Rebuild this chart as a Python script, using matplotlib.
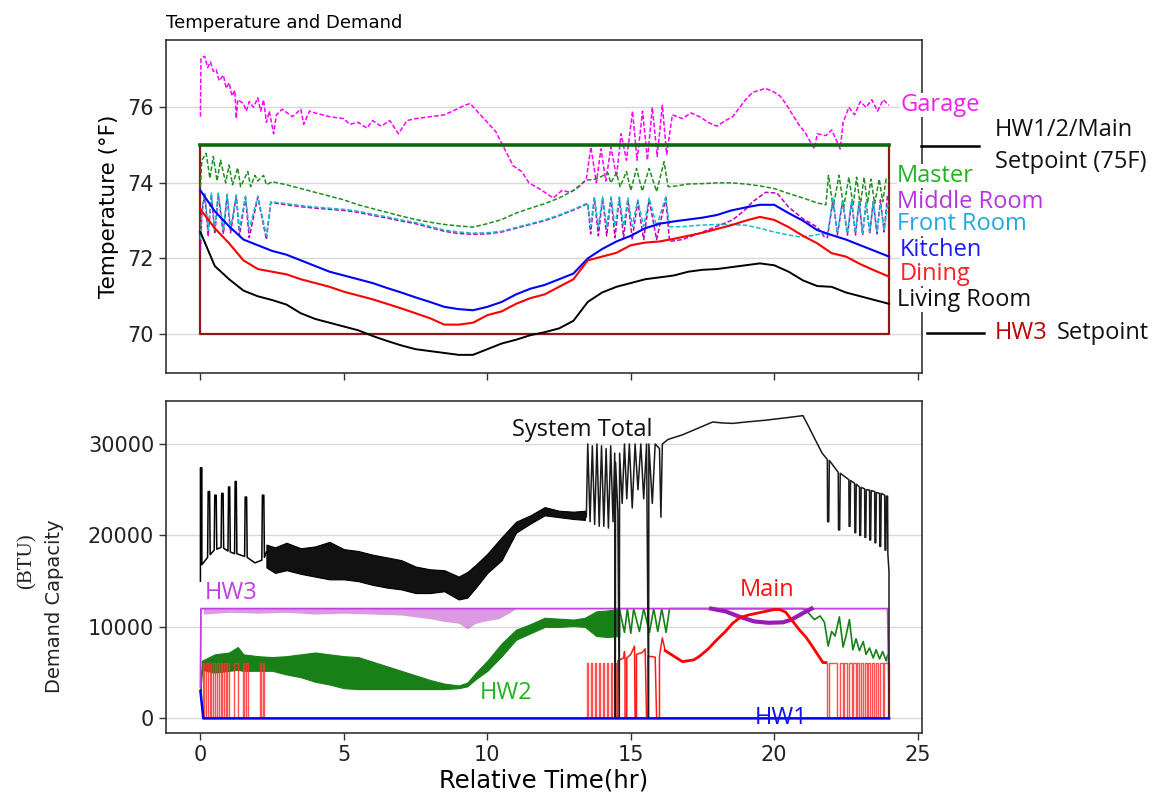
import numpy as np
import matplotlib
matplotlib.use("Agg")
import matplotlib.pyplot as plt

# ---------------- temperature data (deg F) ----------------
grid_t = np.arange(0, 24.01, 0.5)

living_v = [72.7, 71.8, 71.45, 71.15, 71.0, 70.9, 70.78, 70.55, 70.4, 70.3,
            70.2, 70.1, 69.95, 69.82, 69.7, 69.6, 69.55, 69.5, 69.45, 69.45,
            69.6, 69.75, 69.85, 69.97, 70.05, 70.15, 70.35, 70.85, 71.1, 71.25,
            71.35, 71.45, 71.5, 71.55, 71.65, 71.7, 71.72, 71.77, 71.82, 71.87,
            71.82, 71.65, 71.42, 71.27, 71.25, 71.1, 71.0, 70.9, 70.8]
kitchen_v = [73.8, 73.25, 72.85, 72.5, 72.35, 72.2, 72.1, 71.95, 71.8, 71.65,
             71.55, 71.45, 71.35, 71.22, 71.1, 70.97, 70.85, 70.72, 70.66, 70.63,
             70.72, 70.85, 71.05, 71.2, 71.3, 71.45, 71.6, 72.0, 72.25, 72.45,
             72.6, 72.8, 72.92, 72.98, 73.03, 73.08, 73.15, 73.27, 73.35, 73.42,
             73.42, 73.2, 73.0, 72.75, 72.62, 72.5, 72.35, 72.2, 72.05]
dining_v = [73.3, 72.8, 72.4, 71.95, 71.72, 71.65, 71.58, 71.45, 71.35, 71.25,
            71.12, 71.02, 70.92, 70.8, 70.68, 70.55, 70.42, 70.25, 70.25, 70.3,
            70.5, 70.6, 70.8, 70.95, 71.05, 71.25, 71.45, 71.95, 72.05, 72.15,
            72.35, 72.42, 72.45, 72.52, 72.6, 72.68, 72.78, 72.88, 73.0, 73.1,
            73.02, 72.83, 72.6, 72.4, 72.14, 72.05, 71.85, 71.68, 71.52]

garage_t = [0.0, 0.02, 0.15, 0.25, 0.35, 0.45, 0.55, 0.65, 0.8, 0.9, 1.0, 1.1,
            1.2, 1.25, 1.3, 1.5, 1.6, 1.7, 1.85, 2.0, 2.1, 2.2, 2.3, 2.4, 2.55,
            2.65, 2.85, 3.2, 3.5, 3.6, 3.8, 4.0, 4.5, 5.0, 5.2, 5.5, 5.8, 6.0,
            6.3, 6.6, 6.9, 7.2, 7.5, 8.0, 8.5, 8.8, 9.2, 9.4, 9.7, 10.0, 10.3,
            10.6, 10.9, 11.2, 11.45, 11.8, 12.0, 12.3, 12.6, 12.9, 13.2, 13.45,
            13.61, 13.8, 13.96, 14.13, 14.31, 14.5, 14.66, 14.85, 15.06, 15.22,
            15.41, 15.58, 15.75, 15.92, 16.1, 16.25, 16.45, 16.8, 17.1, 17.4,
            17.7, 18.0, 18.3, 18.55, 18.8, 19.0, 19.25, 19.5, 19.7, 20.0, 20.2,
            20.4, 20.6, 20.85, 21.1, 21.4, 21.5, 21.8, 22.0, 22.3, 22.4, 22.6,
            22.8, 23.0, 23.2, 23.4, 23.6, 23.8, 24.0]
garage_v = [75.75, 77.3, 77.35, 77.05, 77.2, 76.95, 77.0, 76.7, 76.85, 76.5,
            76.65, 76.3, 76.45, 75.7, 76.2, 76.1, 75.9, 76.15, 76.0, 76.25,
            75.9, 76.2, 75.6, 75.9, 75.3, 75.8, 75.95, 75.75, 75.95, 75.55,
            75.9, 75.85, 75.75, 75.7, 75.55, 75.6, 75.45, 75.65, 75.5, 75.65,
            75.3, 75.65, 75.7, 75.75, 75.8, 75.9, 76.05, 76.1, 75.85, 75.6,
            75.35, 74.9, 74.45, 74.3, 74.0, 73.85, 73.75, 73.6, 73.8, 73.75,
            73.9, 74.1, 74.95, 74.0, 74.9, 74.05, 74.95, 74.15, 75.3, 74.6,
            75.9, 74.6, 75.9, 74.6, 76.0, 74.7, 76.05, 74.75, 75.8, 75.7,
            75.85, 75.75, 75.6, 75.5, 75.65, 75.75, 76.0, 76.2, 76.4, 76.45,
            76.5, 76.4, 76.3, 76.1, 75.85, 75.55, 75.3, 74.9, 75.3, 75.25,
            75.4, 74.9, 75.6, 76.0, 75.8, 76.15, 76.0, 76.2, 75.9, 76.2, 76.05]

master_t = [0.0, 0.05, 0.2, 0.33, 0.45, 0.58, 0.7, 0.88, 1.0, 1.12, 1.3, 1.4,
            1.65, 1.75, 1.9, 2.0, 2.2, 2.3, 2.5, 3.0, 3.5, 4.0, 4.5, 5.0, 5.5,
            6.0, 6.5, 7.0, 7.5, 8.0, 8.5, 9.0, 9.5, 10.0, 10.5, 11.0, 11.5,
            12.0, 12.5, 13.0, 13.44, 13.8, 14.2, 14.3, 14.5, 14.63, 14.85, 15.0,
            15.2, 15.4, 15.64, 15.9, 16.16, 16.3, 16.6, 17.0, 17.5, 18.0, 18.5,
            19.0, 19.5, 20.0, 20.5, 21.0, 21.5, 21.8, 21.89, 22.05, 22.26, 22.42,
            22.6, 22.75, 22.87, 23.0, 23.13, 23.25, 23.37, 23.5, 23.66, 23.78,
            23.9, 24.0]
master_v = [73.9, 74.6, 74.78, 74.12, 74.7, 74.05, 74.6, 74.0, 74.47, 73.95,
            74.4, 73.9, 74.3, 73.9, 74.2, 74.05, 74.2, 73.95, 74.03, 73.95,
            73.85, 73.75, 73.65, 73.55, 73.42, 73.32, 73.22, 73.12, 73.03, 72.96,
            72.9, 72.86, 72.83, 72.92, 73.03, 73.2, 73.33, 73.45, 73.6, 73.8,
            74.07, 74.1, 74.26, 74.0, 74.26, 73.9, 74.3, 73.8, 74.38, 73.78,
            74.38, 73.77, 74.56, 73.9, 73.92, 73.97, 73.98, 74.0, 74.0, 73.97,
            73.92, 73.85, 73.72, 73.6, 73.47, 73.42, 74.2, 73.35, 74.2, 73.35,
            74.15, 73.4, 74.15, 73.4, 74.15, 73.45, 74.1, 73.45, 74.1, 73.5,
            74.1, 74.05]

front_t = [0.0, 0.05, 0.15, 0.27, 0.38, 0.5, 0.62, 0.8, 0.93, 1.05, 1.25, 1.36,
           1.57, 1.7, 2.0, 2.3, 2.45, 3.0, 3.5, 4.0, 4.5, 5.0, 5.5, 6.0, 6.5,
           7.0, 7.5, 8.0, 8.5, 9.0, 9.5, 10.0, 10.5, 11.0, 11.5, 12.0, 12.5,
           13.0, 13.5, 13.6, 13.73, 13.87, 14.02, 14.16, 14.31, 14.45, 14.6,
           14.75, 14.9, 15.05, 15.24, 15.45, 15.64, 15.9, 16.22, 16.35, 16.8,
           17.4, 18.0, 18.5, 19.0, 19.5, 20.0, 20.5, 20.9, 21.3, 21.75, 21.85,
           22.05, 22.2, 22.38, 22.55, 22.7, 22.83, 22.96, 23.08, 23.2, 23.33,
           23.45, 23.58, 23.7, 23.83, 23.95, 24.0]
front_v = [72.5, 73.3, 73.73, 72.75, 73.73, 72.75, 73.73, 72.75, 73.7, 72.78,
           73.68, 72.78, 73.65, 72.78, 73.65, 72.6, 73.5, 73.45, 73.4, 73.36,
           73.33, 73.3, 73.25, 73.17, 73.1, 73.02, 72.95, 72.85, 72.75, 72.7,
           72.67, 72.68, 72.72, 72.82, 72.92, 73.02, 73.15, 73.3, 73.47, 72.85,
           73.63, 72.85, 73.63, 72.85, 73.63, 72.85, 73.63, 72.85, 73.6, 72.85,
           73.55, 72.85, 73.6, 72.85, 73.63, 72.84, 72.84, 72.88, 72.9, 72.9,
           72.88, 72.8, 72.7, 72.62, 72.57, 72.6, 72.67, 72.6, 73.6, 72.67,
           73.55, 72.67, 73.55, 72.67, 73.5, 72.67, 73.5, 72.7, 73.5, 72.7,
           73.45, 72.75, 73.4, 73.4]

middle_t = [0.0, 0.05, 0.15, 0.27, 0.38, 0.5, 0.62, 0.8, 0.93, 1.05, 1.25, 1.36,
            1.57, 1.7, 2.0, 2.3, 2.45, 3.0, 3.5, 4.0, 4.5, 5.0, 5.5, 6.0, 6.5,
            7.0, 7.5, 8.0, 8.5, 9.0, 9.5, 10.0, 10.5, 11.0, 11.5, 12.0, 12.5,
            13.0, 13.5, 13.6, 13.73, 13.87, 14.02, 14.16, 14.31, 14.45, 14.6,
            14.75, 14.9, 15.05, 15.24, 15.45, 15.64, 15.9, 16.22, 16.35, 16.8,
            17.4, 18.0, 18.55, 19.0, 19.25, 19.7, 20.1, 20.5, 21.0, 21.5, 21.75,
            21.85, 22.05, 22.2, 22.38, 22.55, 22.7, 22.83, 22.96, 23.08, 23.2,
            23.33, 23.45, 23.58, 23.7, 23.83, 23.95, 24.0]
middle_v = [72.2, 73.2, 73.7, 72.6, 73.7, 72.65, 73.7, 72.65, 73.67, 72.68,
            73.65, 72.6, 73.62, 72.55, 73.62, 72.5, 73.48, 73.42, 73.37, 73.33,
            73.3, 73.27, 73.22, 73.14, 73.07, 72.99, 72.92, 72.82, 72.72, 72.66,
            72.64, 72.65, 72.7, 72.8, 72.9, 73.0, 73.13, 73.28, 73.45, 72.65,
            73.6, 72.6, 73.6, 72.6, 73.6, 72.55, 73.6, 72.55, 73.55, 72.5,
            73.5, 72.5, 73.55, 72.5, 73.6, 72.45, 72.5, 72.67, 72.85, 73.02,
            73.3, 73.5, 73.75, 73.73, 73.36, 73.05, 72.83, 72.57, 72.55, 73.55,
            72.62, 73.5, 72.62, 73.5, 72.62, 73.5, 72.62, 73.5, 72.65, 73.5,
            72.65, 73.55, 72.7, 73.7, 73.7]

setpoint_main_t = [0, 24]
setpoint_main_v = [75, 75]
setpoint_hw3_t = [0, 0, 24, 24]
setpoint_hw3_v = [75, 70, 70, 75]

# ---------------- demand data (BTU) ----------------
total_a = [(0.00, 15000), (0.00, 27400), (0.05, 27400), (0.05, 16800), (0.25, 17600),
           (0.27, 24800), (0.32, 24800), (0.34, 17900), (0.48, 18400), (0.50, 24400),
           (0.55, 24400), (0.57, 18500), (0.72, 18700), (0.74, 24600), (0.79, 24600),
           (0.81, 18600), (0.96, 18300), (0.98, 25300), (1.02, 25300), (1.04, 18200),
           (1.19, 18000), (1.21, 25900), (1.25, 25900), (1.27, 18000), (1.54, 17700),
           (1.56, 24200), (1.61, 24200), (1.63, 17600), (1.90, 17000), (2.14, 17300),
           (2.16, 24400), (2.21, 24400), (2.23, 17600), (2.30, 18200)]
total_band_t = [2.3, 2.6, 3.0, 3.5, 4.0, 4.5, 5.0, 5.5, 6.0, 6.5, 7.0, 7.5, 8.0,
                8.5, 9.0, 9.3, 9.6, 10.0, 10.5, 11.0, 11.5, 12.0, 12.5, 13.0, 13.4]
total_band_lo = [16500, 15900, 16200, 15800, 15500, 15200, 15200, 15000, 14600,
                 14300, 14100, 13700, 13700, 13900, 13000, 13200, 14300, 15900,
                 17300, 20300, 21300, 22200, 22000, 21800, 21700]
total_band_hi = [19000, 18700, 19200, 18600, 18800, 19300, 18500, 18300, 17900,
                 17600, 17300, 16600, 16300, 16200, 15500, 16000, 16800, 18000,
                 19800, 21500, 22200, 23100, 22700, 22600, 22700]
total_c = [(13.40, 22200), (13.45, 22000), (13.50, 30000), (13.58, 21500), (13.66, 29800),
           (13.74, 21200), (13.82, 30000), (13.90, 21000), (13.98, 29800), (14.06, 21000),
           (14.14, 29500), (14.22, 20800), (14.30, 29800), (14.38, 21500), (14.44, 29000),
           (14.46, 0), (14.47, 28000), (14.55, 22500), (14.60, 0), (14.61, 29000),
           (14.70, 23500), (14.78, 30000), (14.86, 24000), (14.95, 30000), (15.05, 23000),
           (15.15, 30000), (15.25, 25000), (15.35, 30000), (15.45, 24000), (15.55, 30000),
           (15.62, 0), (15.63, 30000), (15.75, 23500), (15.85, 30000), (16.00, 29500),
           (16.05, 22000), (16.10, 30000), (16.30, 30500), (16.80, 31000), (17.40, 31800),
           (17.85, 32400), (18.20, 32300), (18.55, 32250), (19.00, 32400), (19.70, 32600),
           (20.50, 32900), (21.00, 33100), (21.20, 31900), (21.44, 30400), (21.67, 29000),
           (21.80, 28500), (21.85, 28300), (21.86, 21500), (21.90, 21500), (21.92, 28200),
           (22.23, 26900), (22.24, 20600), (22.28, 20600), (22.30, 26800), (22.60, 26100),
           (22.61, 21000), (22.64, 21000), (22.66, 26000), (22.80, 25700), (22.81, 20300),
           (22.84, 20300), (22.86, 25600), (22.97, 25300), (22.98, 20000), (23.01, 20000),
           (23.03, 25250), (23.15, 25100), (23.16, 19800), (23.19, 19800), (23.21, 25000),
           (23.32, 24960), (23.33, 19500), (23.36, 19500), (23.38, 24900), (23.50, 24800),
           (23.51, 19200), (23.54, 19200), (23.56, 24700), (23.67, 24600), (23.68, 18800),
           (23.71, 18800), (23.73, 24600), (23.85, 24400), (23.86, 18400), (23.89, 18400),
           (23.91, 24300), (23.95, 24300), (23.96, 18000), (24.00, 16000), (24.00, 0)]

hw3_t = [0.0, 0.02, 23.95, 24.0]
hw3_v = [3400, 12000, 12000, 2800]
hw3_dip_t = [0.1, 1.0, 2.0, 3.0, 4.0, 5.0, 6.0, 7.0, 7.5, 8.0, 8.5, 9.0, 9.3, 9.6,
             10.0, 10.4, 10.8, 11.0]
hw3_dip_lo = [11400, 11600, 11500, 11600, 11400, 11500, 11400, 11300, 11100,
              10900, 10600, 10400, 9800, 10400, 10700, 10900, 11600, 12000]
hw3_swing_t = [17.8, 18.3, 18.8, 19.3, 19.8, 20.3, 20.6, 21.0, 21.3]
hw3_swing_v = [12000, 11700, 11100, 10600, 10450, 10500, 10800, 11500, 12000]

hw2_band_t = [0.0, 0.05, 0.5, 1.0, 1.3, 1.5, 2.0, 2.5, 3.0, 3.5, 4.0, 4.5, 5.0,
              5.5, 6.0, 6.5, 7.0, 7.5, 8.0, 8.5, 9.0, 9.3, 9.6, 10.0, 10.5, 11.0,
              11.5, 12.0, 12.5, 13.0, 13.4, 13.8, 14.2, 14.6]
hw2_band_lo = [3000, 5300, 5000, 5200, 5300, 5200, 5200, 5200, 4800, 4500, 4000,
               3700, 3300, 3200, 3200, 3200, 3200, 3200, 3200, 3200, 3300, 3500,
               4300, 5200, 6800, 8600, 9300, 10000, 10000, 10100, 10000, 9000,
               8900, 9000]
hw2_band_hi = [3000, 6300, 7000, 7200, 7800, 7000, 6800, 6700, 6800, 7000, 7200,
               7000, 6800, 6700, 6200, 5700, 5200, 4700, 4200, 3800, 3600, 3900,
               5000, 6300, 8200, 9700, 10300, 11000, 10900, 10800, 11000, 11700,
               11800, 12000]
hw2_t = [14.6, 14.78, 14.88, 15.0, 15.1, 15.3, 15.45, 15.65, 15.8, 15.94, 16.08,
         16.23, 16.35, 21.0, 21.2, 21.4, 21.6, 21.75, 21.88, 22.0, 22.12, 22.27,
         22.4, 22.5, 22.62, 22.74, 22.85, 22.97, 23.1, 23.2, 23.32, 23.45, 23.55,
         23.67, 23.78, 23.9, 23.95]
hw2_v = [12000, 9400, 12000, 9300, 12000, 9500, 12000, 9400, 12000, 9500, 12000,
         9400, 12000, 12000, 11500, 10800, 11200, 10500, 7900, 9500, 9000, 11100,
         7800, 9000, 10800, 7500, 8700, 7400, 8400, 7000, 7700, 6600, 7500, 6500,
         7300, 6300, 6900]

main_pulse_level = 6100
main_pulses = [(0.08, 0.12), (0.20, 0.26), (0.33, 0.38), (0.45, 0.50), (0.58, 0.64),
               (0.70, 0.76), (0.82, 0.88), (0.94, 0.99), (1.18, 1.30), (1.47, 1.52),
               (1.58, 1.65), (2.06, 2.12), (2.17, 2.23), (13.47, 13.52), (13.60, 13.66),
               (13.74, 13.80), (13.88, 13.94), (14.02, 14.08), (14.16, 14.22),
               (14.30, 14.36), (14.44, 14.50)]
main_cycling_t = [14.55, 14.55, 14.75, 14.78, 14.80, 14.80, 14.86, 14.86, 15.00,
                  15.13, 15.15, 15.20, 15.20, 15.40, 15.50, 15.55, 15.60, 15.60,
                  15.85, 15.90, 16.00, 16.00, 16.10, 16.20]
main_cycling_v = [0, 6300, 6600, 7300, 6500, 0, 0, 6600, 7000, 7900, 0, 0, 7000,
                  7200, 7600, 0, 0, 6800, 6700, 0, 0, 6800, 8800, 7400]
main_t = [16.20, 16.40, 16.80, 17.20, 17.40, 17.70, 18.00, 18.30, 18.55, 18.80,
          19.10, 19.40, 19.70, 20.00, 20.20, 20.40, 20.60, 20.87, 21.10, 21.30,
          21.55, 21.70, 21.80]
main_v = [7400, 7000, 6200, 6400, 6800, 7600, 8600, 9500, 10400, 11000, 11300,
          11500, 11700, 11900, 11900, 11600, 10800, 9700, 8900, 8000, 6800, 6100,
          6100]
main_gaps = [(21.85, 21.92), (22.20, 22.28), (22.38, 22.43), (22.55, 22.60),
             (22.70, 22.75), (22.85, 22.90), (22.97, 23.02), (23.10, 23.15),
             (23.22, 23.27), (23.35, 23.40), (23.48, 23.53), (23.62, 23.68),
             (23.78, 23.82), (23.95, 24.00)]

hw1_t = [0.0, 0.1, 24.0]
hw1_v = [3000, 0, 0]

# ---------------- figure ----------------
W, H = 1167, 808
fig = plt.figure(figsize=(W / 100, H / 100), dpi=100)


def fx(px):
    return px / W


def fy(py):
    return 1 - py / H


ax1 = fig.add_axes([fx(166), fy(373), fx(922) - fx(166), fy(40) - fy(373)])
ax2 = fig.add_axes([fx(166), fy(733), fx(922) - fx(166), fy(401) - fy(733)])

for ax in (ax1, ax2):
    ax.set_xlim(-1.2, 25.15)
    ax.set_xticks([0, 5, 10, 15, 20, 25])
    ax.grid(axis="y", color="#d8d8d8", lw=1.0, zorder=0)
    ax.set_axisbelow(True)
    for s in ax.spines.values():
        s.set_color("#333333")
        s.set_linewidth(1.2)
    ax.tick_params(direction="out", length=5, width=1, colors="#333333",
                   labelsize=15, labelcolor="#222222")

# --- temperature panel ---
ax1.set_ylim(68.97, 77.78)
ax1.set_yticks([70, 72, 74, 76])
ax1.tick_params(axis="x", labelbottom=False)
dash = (0, (3, 1.4))
ax1.plot(garage_t, garage_v, color="#ff00ff", lw=1.1, ls=dash, zorder=3)
ax1.plot(setpoint_hw3_t, setpoint_hw3_v, color="#8b1a1a", lw=1.6, zorder=3)
ax1.plot(setpoint_main_t, setpoint_main_v, color="#0b6b0b", lw=2.6, zorder=4)
ax1.plot(master_t, master_v, color="#1f8f1f", lw=1.1, ls=dash, zorder=3)
ax1.plot(middle_t, middle_v, color="#bf00bf", lw=1.1, ls=dash, zorder=3)
ax1.plot(front_t, front_v, color="#10bfc8", lw=1.1, ls=dash, zorder=3)
ax1.plot(grid_t, kitchen_v, color="#0000ff", lw=1.5, zorder=3)
ax1.plot(grid_t, dining_v, color="#ff0000", lw=1.5, zorder=3)
ax1.plot(grid_t, living_v, color="#000000", lw=1.4, zorder=3)
ax1.set_ylabel("Temperature (°F)", fontsize=15.5, labelpad=6)
ax1.set_title("Temperature and Demand", loc="left", fontsize=13, pad=9)

# --- demand panel ---
ax2.set_ylim(-1600, 34700)
ax2.set_yticks([0, 10000, 20000, 30000])
ax2.set_xlabel("Relative Time(hr)", fontsize=17.5, labelpad=3)

ax2.fill_between(hw2_band_t, hw2_band_lo, hw2_band_hi, color="#178017", lw=0.8,
                 edgecolor="#178017", zorder=2)
ax2.plot(hw2_t, hw2_v, color="#178017", lw=1.2, zorder=2)

ax2.fill_between(hw3_dip_t, hw3_dip_lo, [hw3_v[1]] * len(hw3_dip_t),
                 color="#b020c0", alpha=0.45, lw=0, zorder=3)
ax2.plot(hw3_t, hw3_v, color="#c040e0", lw=1.3, zorder=3)
ax2.plot(hw3_swing_t, hw3_swing_v, color="#9a1ab8", lw=3.0, zorder=3)

pulse_t, pulse_v = [], []
for on, off in main_pulses:
    pulse_t += [on, on, off, off]
    pulse_v += [0, main_pulse_level, main_pulse_level, 0]
ax2.plot(pulse_t, pulse_v, color="#ff3030", lw=1.0, alpha=0.85, zorder=4)
ax2.plot(main_cycling_t, main_cycling_v, color="#ff1a1a", lw=1.1, zorder=4)
ax2.plot(main_t, main_v, color="#ff0000", lw=2.0, zorder=4)
gap_t, gap_v = [main_t[-1]], [main_pulse_level]
for on, off in main_gaps:
    gap_t += [on, on, off, off]
    gap_v += [main_pulse_level, 0, 0, main_pulse_level]
ax2.plot(gap_t, gap_v, color="#ff3030", lw=1.0, alpha=0.85, zorder=4)

ta, va = zip(*total_a)
ax2.plot(ta, va, color="#000000", lw=1.1, zorder=5)
ax2.fill_between(total_band_t, total_band_lo, total_band_hi, color="#111111",
                 lw=0.8, edgecolor="#000000", zorder=5)
tc, vc = zip(*total_c)
ax2.plot(tc, vc, color="#1a1a1a", lw=1.1, zorder=5)

ax2.plot(hw1_t, hw1_v, color="#0000ee", lw=1.8, zorder=6)

# --- annotations ---
lab = dict(family="Open Sans", fontsize=17, va="center", ha="left")
box = dict(facecolor="white", edgecolor="none", pad=0.3)
right_labels = [("Garage", 900, 105, "#f020f0"), ("Master", 897, 176, "#22b322"),
                ("Middle Room", 897, 202, "#b536d9"), ("Front Room", 897, 224, "#22a8e0"),
                ("Kitchen", 900, 250, "#1a1aff"), ("Dining", 900, 274, "#ff2020"),
                ("Living Room", 897, 300, "#111111")]
for txt, x, y, c in right_labels:
    fig.text(fx(x), fy(y), txt, color=c, bbox=box, **lab)

fig.text(fx(995), fy(130), "HW1/2/Main", color="#111111", **lab)
fig.text(fx(995), fy(162), "Setpoint (75F)", color="#111111", **lab)
fig.add_artist(plt.Line2D([fx(921), fx(979)], [fy(146), fy(146)], color="black", lw=1.8))
fig.add_artist(plt.Line2D([fx(927), fx(984)], [fy(333), fy(333)], color="black", lw=1.8))
fig.text(fx(995), fy(333), "HW3", color="#c00000", **lab)
fig.text(fx(1057), fy(333), "Setpoint", color="#111111", **lab)

fig.text(fx(512), fy(430), "System Total", color="#111111", **lab)
fig.text(fx(205), fy(593), "HW3", color="#bf3fdf", **lab)
fig.text(fx(480), fy(693), "HW2", color="#22b322", **lab)
fig.text(fx(740), fy(590), "Main", color="#ff1010", **lab)
fig.text(fx(755), fy(718), "HW1", color="#1010ff", **lab)

fig.text(fx(27), fy(561), "(BTU)", rotation=90, family="Liberation Serif",
         fontsize=15, va="center", ha="center", color="#222222")
fig.text(fx(55), fy(606), "Demand Capacity", rotation=90, fontsize=14,
         va="center", ha="center", color="#222222")

fig.savefig("out.png", dpi=100)
